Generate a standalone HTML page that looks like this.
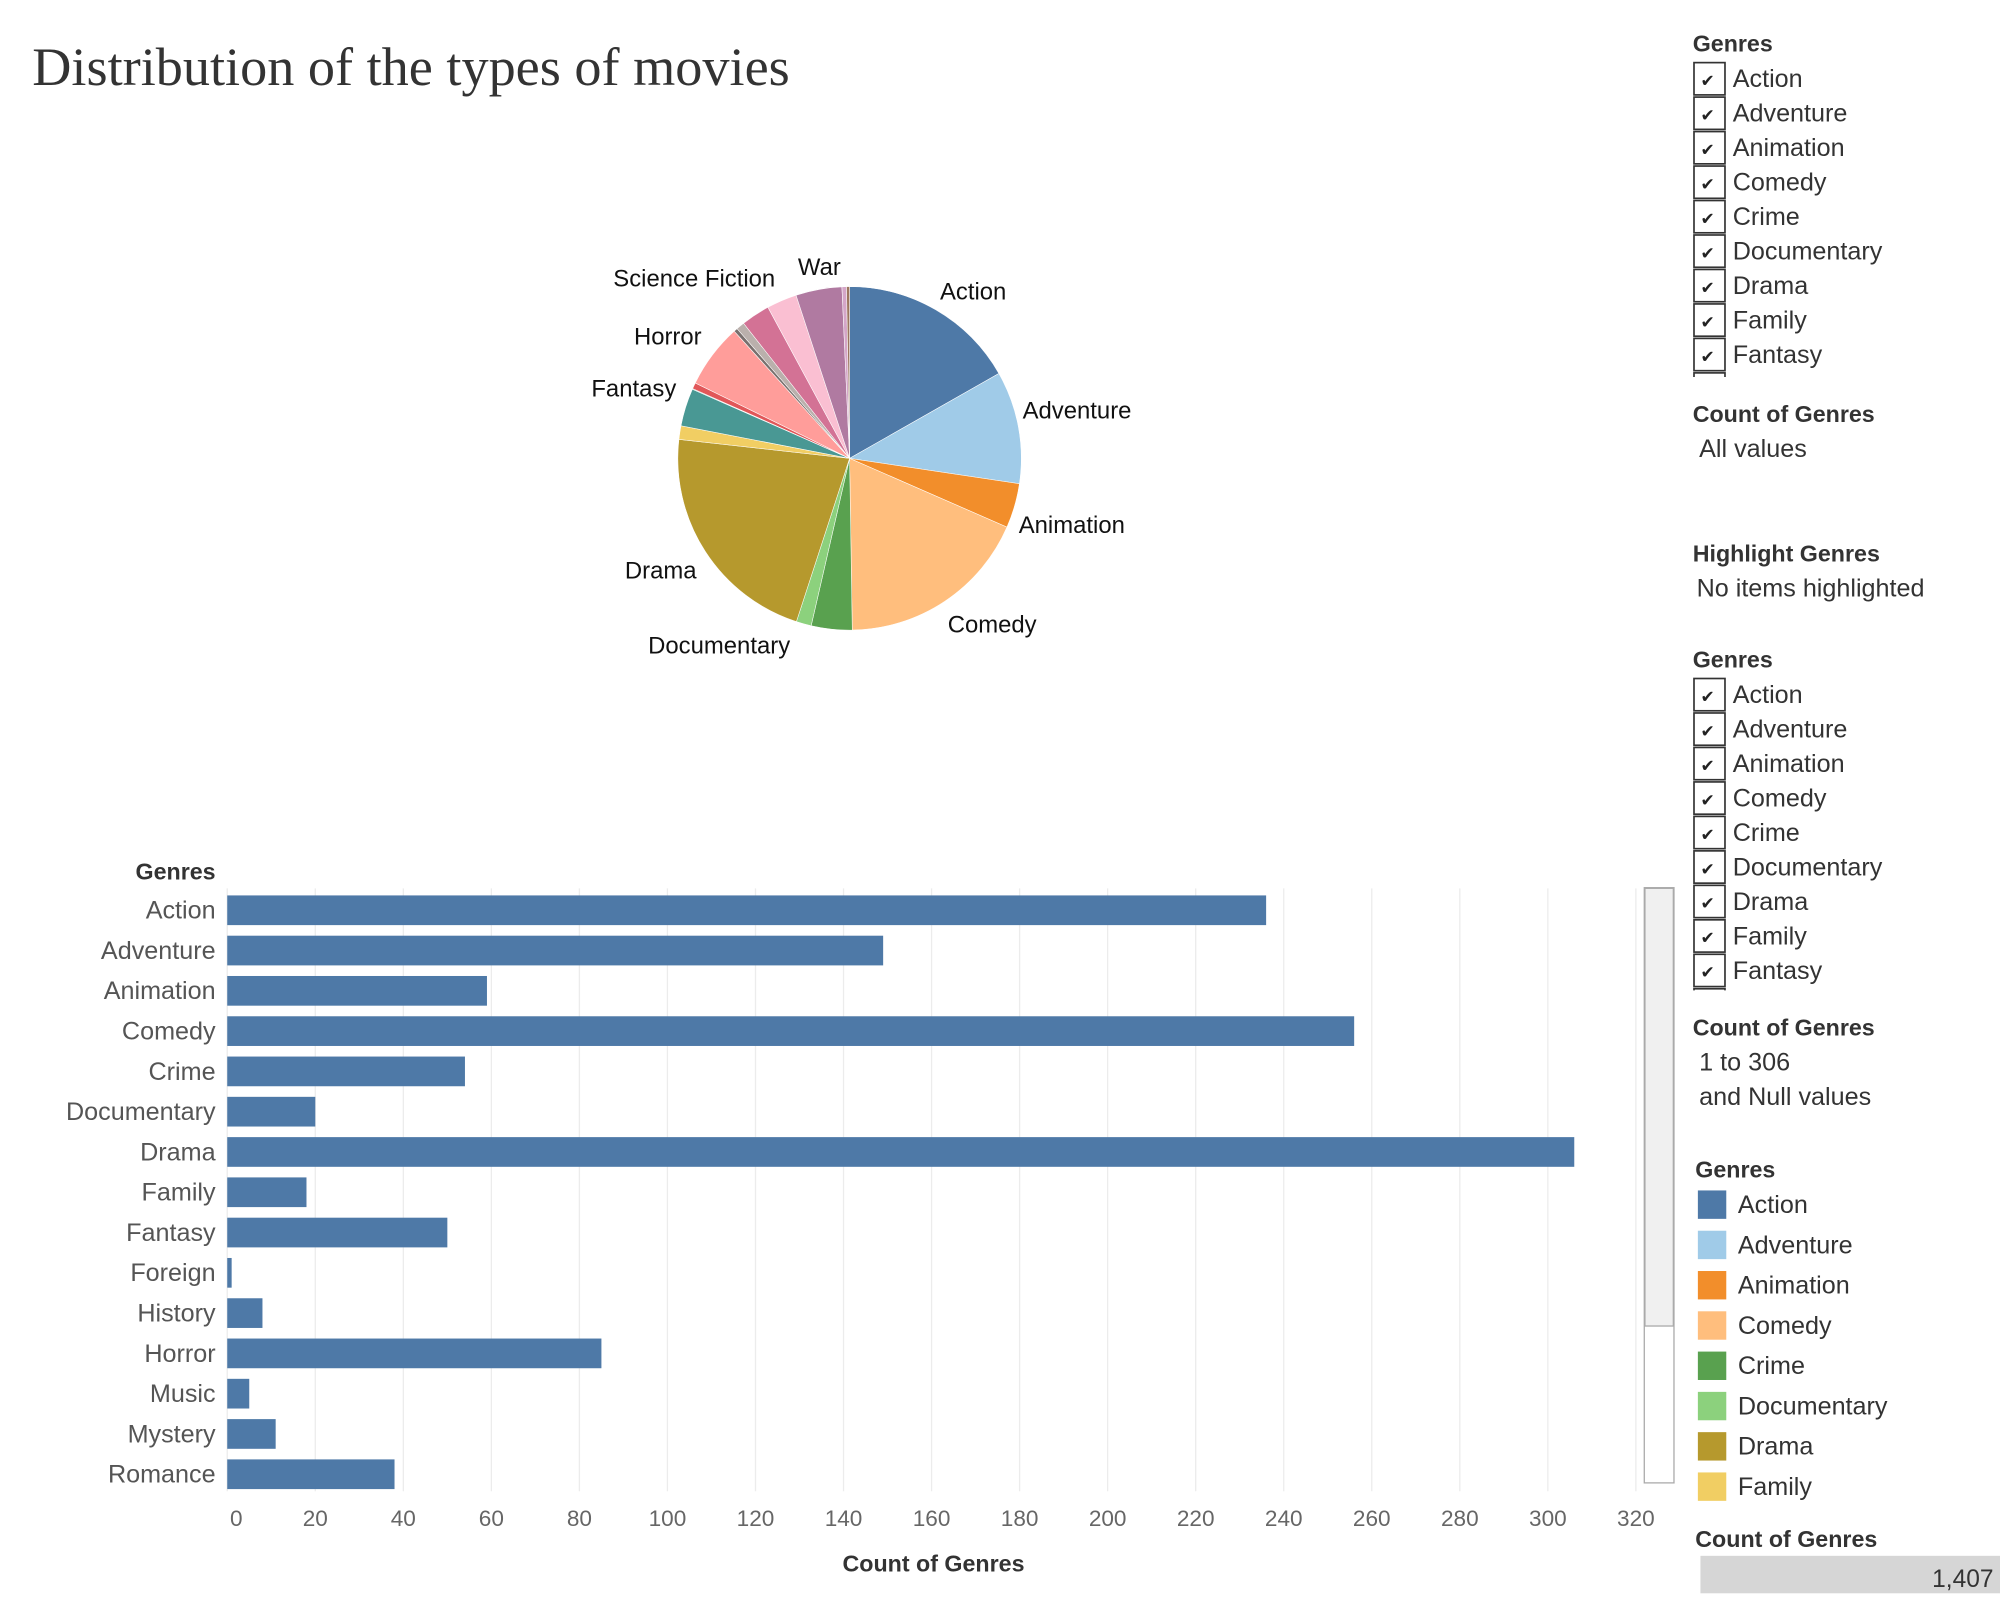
<!DOCTYPE html>
<html><head><meta charset="utf-8"><style>
html,body{margin:0;padding:0;background:#fff;}
svg{display:block;font-family:"Liberation Sans",sans-serif;}
</style></head><body>
<svg id="root" width="2000" height="1600" viewBox="0 0 1549 1239.2">
<text x="25" y="66" font-family="Liberation Serif, serif" font-size="42" fill="#333">Distribution of the types of movies</text>
<g id="pie"></g>
<g id="bars"></g>
<g id="panel"></g>
</svg>
<script>
const categories=["Action","Adventure","Animation","Comedy","Crime","Documentary","Drama","Family","Fantasy","Foreign","History","Horror","Music","Mystery","Romance","Science Fiction","Thriller","War","Western"];
const counts=[236,149,59,256,54,20,306,18,50,1,8,85,5,11,38,40,61,6,4];
const colors=["#4e79a7","#a0cbe8","#f28e2b","#ffbe7d","#59a14f","#8cd17d","#b6992d","#f1ce63","#499894","#86bcb6","#e15759","#ff9d9a","#79706e","#bab0ac","#d37295","#fabfd2","#b07aa1","#d4a6c8","#9d7660"];
const barCats=categories.slice(0,15);
const barVals=counts.slice(0,15);
const xTicks=[0,20,40,60,80,100,120,140,160,180,200,220,240,260,280,300,320];
const pieLabels=[["Action",728,232],["Adventure",792,324],["Animation",789,413],["Comedy",734,490],["Documentary",502,506],["Drama",484,448],["Fantasy",458,307],["Horror",491,267],["Science Fiction",475,222],["War",618,213]];
const NS="http://www.w3.org/2000/svg";
function mk(tag,attrs,parent,txt){const e=document.createElementNS(NS,tag);for(const k in attrs)e.setAttribute(k,attrs[k]);if(txt!==undefined)e.textContent=txt;parent.appendChild(e);return e;}
// Pie
const pie=document.getElementById('pie');
const cx=658,cy=355,R=133;
const total=counts.reduce((a,b)=>a+b,0);
let acc=0;
counts.forEach((v,i)=>{
  const a0=acc/total*2*Math.PI;acc+=v;const a1=acc/total*2*Math.PI;
  const x0=cx+R*Math.sin(a0),y0=cy-R*Math.cos(a0),x1=cx+R*Math.sin(a1),y1=cy-R*Math.cos(a1);
  const large=(a1-a0)>Math.PI?1:0;
  const p=mk('path',{d:`M${cx},${cy}L${x0},${y0}A${R},${R} 0 ${large} 1 ${x1},${y1}Z`,fill:colors[i],stroke:'#fff','stroke-width':0.4},pie);
  
  
});
pieLabels.forEach(l=>{
  const t=mk('text',{x:l[1],y:l[2],'font-size':18.5,fill:'#111'},pie,l[0]);
  
  
});
// Bars
const bars=document.getElementById('bars');
const x0=176,x1=1267,maxX=320;
const xs=v=>x0+(x1-x0)*v/maxX;
const rowY=i=>705+31.2*i;
xTicks.forEach(t=>{
  const g=mk('line',{x1:xs(t),x2:xs(t),y1:688,y2:1155,stroke:'#ececec','stroke-width':1},bars);
  
  
  const lb=mk('text',{x:t===0?xs(t)+7:xs(t),y:1182,'font-size':17.5,fill:'#666','text-anchor':'middle'},bars,String(t));
  
  
});
const hdr=mk('text',{x:167,y:681,'font-size':18,'font-weight':'bold',fill:'#333','text-anchor':'end'},bars,'Genres');


barCats.forEach((c,i)=>{
  const y=rowY(i);
  const lb=mk('text',{x:167,y:y+6.5,'font-size':19.5,fill:'#555','text-anchor':'end'},bars,c);
  
  
  const r=mk('rect',{x:x0,y:y-11.5,width:Math.max(xs(barVals[i])-x0,1.5),height:23,fill:'#4e79a7'},bars);
  
  
});
const xt=mk('text',{x:723,y:1217,'font-size':18,'font-weight':'bold',fill:'#333','text-anchor':'middle'},bars,'Count of Genres');


const sb=mk('rect',{x:1273.5,y:687.5,width:23,height:461,fill:'#fff',stroke:'#aaa','stroke-width':1},bars);


const th=mk('rect',{x:1274,y:688,width:22,height:339,fill:'#f0f0f0',stroke:'#aaa','stroke-width':1},bars);


// Panel
const panel=document.getElementById('panel');
function txt(s,x,y,bold,name){const t=mk('text',{x:x,y:y,'font-size':bold?18:19.5,'font-weight':bold?'bold':'normal',fill:'#333'},panel,s);return t;}
function checklist(top,clipBottom,id){
  const cp=mk('clipPath',{id:id},panel);mk('rect',{x:1300,y:top-15,width:250,height:clipBottom-top+15},cp);
  const g=mk('g',{'clip-path':`url(#${id})`},panel);
  
  
  for(let i=0;i<10;i++){
    const y=top+26.7*i;
    const b=mk('rect',{x:1312,y:y-12.5,width:24,height:25,fill:'#fff',stroke:'#333','stroke-width':1.3},g);
    
    
    const c=mk('text',{x:1317,y:y+6,'font-size':13,fill:'#222'},g,'✔');
    
    
    if(i<9){const l=mk('text',{x:1342,y:y+6.5,'font-size':19.5,fill:'#333'},g,categories[i]);
    
    }
  }
}
txt('Genres',1311,40,true,'filter-title');
checklist(61,292,'c1');
txt('Count of Genres',1311,327,true,'count-filter-title');
txt('All values',1316,354,false,'count-filter-value');
txt('Highlight Genres',1311,435,true,'highlight-title');
txt('No items highlighted',1314,462,false,'highlight-value');
txt('Genres',1311,517,true,'filter-title-2');
checklist(538,767,'c2');
txt('Count of Genres',1311,802,true,'count-filter-title-2');
txt('1 to 306',1316,829,false,'count-range');
txt('and Null values',1316,856,false,'count-null');
txt('Genres',1313,912,true,'color-legend-title');
for(let i=0;i<8;i++){
  const y=933+31.2*i;
  const s=mk('rect',{x:1315,y:y-11,width:22,height:22,fill:colors[i]},panel);
  
  
  txt(categories[i],1346,y+6.5,false,'legend-entry');
}
txt('Count of Genres',1313,1198,true,'size-legend-title');
const sbar=mk('rect',{x:1317,y:1205,width:232,height:29,fill:'#d6d6d6'},panel);


const tt=mk('text',{x:1544,y:1229,'font-size':19,fill:'#333','text-anchor':'end'},panel,'1,407');


</script>
</body></html>
